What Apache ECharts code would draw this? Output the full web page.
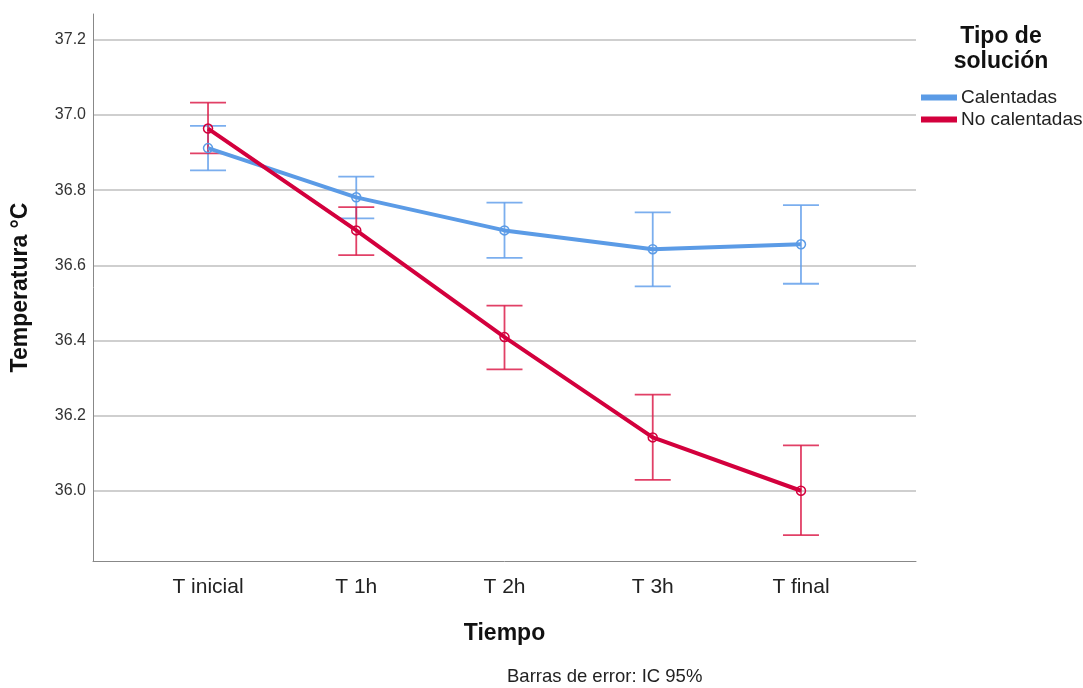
<!DOCTYPE html>
<html><head><meta charset="utf-8">
<script src="https://cdn.jsdelivr.net/npm/echarts@6/dist/echarts.min.js"></script>
<style>html,body{margin:0;padding:0;background:#fff}#c{width:1083px;height:688px}</style>
</head><body><div id="c"></div>
<script>
const categories = ['T inicial', 'T 1h', 'T 2h', 'T 3h', 'T final'];
const yTicks = [36.0, 36.2, 36.4, 36.6, 36.8, 37.0, 37.2];
const calMean = [36.912, 36.781, 36.693, 36.643, 36.656];
const calLow  = [36.853, 36.725, 36.620, 36.544, 36.551];
const calHigh = [36.971, 36.836, 36.767, 36.741, 36.760];
const noMean  = [36.964, 36.693, 36.409, 36.142, 36.000];
const noLow   = [36.898, 36.627, 36.323, 36.029, 35.882];
const noHigh  = [37.033, 36.755, 36.493, 36.256, 36.121];

const blue = '#5b9be6', blueBar = 'rgba(100,160,235,0.85)';
const red = '#d3003d', redBar = 'rgba(220,30,75,0.85)';
const FONT = '"Liberation Sans", Arial, sans-serif';

function errSeries(name, low, high, color) {
  return {
    type: 'custom', name: name + '_err', z: 1, silent: true,
    data: low.map((l, i) => [i, l, high[i]]),
    renderItem: function (params, api) {
      const x = api.value(0);
      const p1 = api.coord([x, api.value(1)]);
      const p2 = api.coord([x, api.value(2)]);
      const hw = 18;
      const st = { stroke: color, lineWidth: 1.8 };
      return { type: 'group', children: [
        { type: 'line', shape: { x1: p1[0], y1: p1[1], x2: p2[0], y2: p2[1] }, style: st },
        { type: 'line', shape: { x1: p1[0] - hw, y1: p1[1], x2: p1[0] + hw, y2: p1[1] }, style: st },
        { type: 'line', shape: { x1: p2[0] - hw, y1: p2[1], x2: p2[0] + hw, y2: p2[1] }, style: st }
      ]};
    }
  };
}
function lineSeries(name, vals, color) {
  return {
    type: 'line', name: name, z: 3,
    data: vals.map((v, i) => [i, v]),
    lineStyle: { color: color, width: 4 },
    itemStyle: { color: 'rgba(255,255,255,0)', borderColor: color, borderWidth: 1.5, opacity: 1 },
    symbol: 'circle', symbolSize: 9, showSymbol: true,
    emphasis: { disabled: true }
  };
}

const chart = echarts.init(document.getElementById('c'), null, { renderer: 'canvas' });
chart.setOption({
  animation: false,
  backgroundColor: '#fff',
  textStyle: { fontFamily: FONT },
  grid: { left: 93, right: 167, top: 14, bottom: 127, containLabel: false },
  xAxis: {
    type: 'value', min: -0.776, max: 4.776,
    axisLine: { show: true, onZero: false, lineStyle: { color: '#888', width: 1 } },
    axisTick: { show: false, customValues: categories.map((c, i) => i) },
    splitLine: { show: false },
    axisLabel: { customValues: categories.map((c, i) => i), formatter: v => categories[Math.round(v)] ?? '',
      color: '#222', fontSize: 21, fontFamily: FONT, margin: 16 },
    name: 'Tiempo', nameLocation: 'middle', nameGap: 61,
    nameTextStyle: { fontSize: 23, fontWeight: 'bold', color: '#111', fontFamily: FONT }
  },
  yAxis: {
    type: 'value', min: 35.813, max: 37.269,
    axisLine: { show: true, onZero: false, lineStyle: { color: '#888', width: 1 } },
    axisTick: { show: false, customValues: yTicks },
    splitLine: { show: true, lineStyle: { color: '#cfcfcf', width: 2 } },
    axisLabel: { customValues: yTicks, formatter: v => v.toFixed(1), color: '#333', fontSize: 16, fontFamily: FONT, margin: 7 },
    name: 'Temperatura °C', nameLocation: 'middle', nameGap: 61, nameRotate: 90,
    nameTextStyle: { fontSize: 23, fontWeight: 'bold', color: '#111', fontFamily: FONT }
  },
  legend: {
    left: 921, top: 88, padding: 0, orient: 'vertical', itemWidth: 34, itemHeight: 4, itemGap: 3,
    icon: 'rect', align: 'left',
    data: [{ name: 'Calentadas', itemStyle: { color: blue } }, { name: 'No calentadas', itemStyle: { color: red } }],
    textStyle: { fontSize: 19, color: '#222', fontFamily: FONT }
  },
  graphic: [
    { type: 'text', x: 1001, y: 24, style: { text: 'Tipo de\nsolución', font: 'bold 23px ' + FONT, fill: '#111', align: 'center', lineHeight: 25 } },
    { type: 'text', x: 507, y: 667, style: { text: 'Barras de error: IC 95%', font: '18.5px ' + FONT, fill: '#222' } }
  ],
  series: [
    errSeries('Calentadas', calLow, calHigh, blueBar),
    errSeries('No calentadas', noLow, noHigh, redBar),
    lineSeries('Calentadas', calMean, blue),
    lineSeries('No calentadas', noMean, red)
  ]
});
</script></body></html>
